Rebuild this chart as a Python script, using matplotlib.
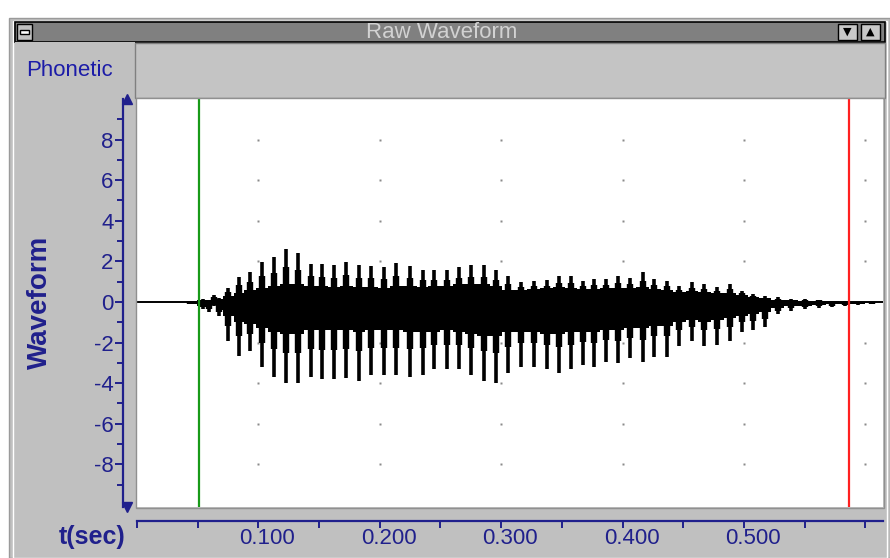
# raw_waveform.py ----
# Redraw the "Raw Waveform" window: a speech token between two cursors

# Setup ----
import numpy
import matplotlib
matplotlib.use('Agg')
import matplotlib.pyplot
from matplotlib import patches, transforms, ticker

matplotlib.pyplot.rcParams['font.family'] = ['Liberation Sans', 'DejaVu Sans']
matplotlib.pyplot.rcParams['axes.unicode_minus'] = False

# Data ----
# one entry per glottal pulse: time (s), spike top / bottom, shoulder top / bottom,
# dense body top / bottom
pulse_t = [0.0437, 0.0544, 0.0593, 0.0634, 0.0675, 0.0750, 0.0840, 0.0931, 0.1030, 0.1129,
           0.1227, 0.1326, 0.1433, 0.1524, 0.1623, 0.1722, 0.1829, 0.1928, 0.2035, 0.2133,
           0.2249, 0.2356, 0.2446, 0.2554, 0.2652, 0.2751, 0.2858, 0.2957, 0.3056, 0.3163,
           0.3270, 0.3377, 0.3476, 0.3575, 0.3674, 0.3764, 0.3863, 0.3962, 0.4061, 0.4168,
           0.4259, 0.4366, 0.4465, 0.4572, 0.4671, 0.4778, 0.4885, 0.4984, 0.5074, 0.5173,
           0.5280, 0.5387, 0.5502, 0.5618, 0.5725, 0.5832, 0.5939, 0.6054]
pulse_hi = [0.05, 0.15, 0.10, 0.35, 0.20, 0.70, 1.25, 1.50, 1.95, 2.20,
            2.60, 2.40, 1.87, 1.87, 1.80, 1.97, 1.80, 1.75, 1.70, 1.90,
            1.75, 1.60, 1.60, 1.60, 1.70, 1.80, 1.80, 1.60, 1.30, 1.00,
            1.05, 1.10, 1.30, 1.30, 1.05, 1.15, 1.15, 1.30, 1.20, 1.50,
            1.15, 1.05, 0.80, 0.97, 0.90, 0.72, 0.90, 0.56, 0.40, 0.30,
            0.23, 0.15, 0.15, 0.12, 0.05, 0.03, 0.00, 0.00]
pulse_lo = [-0.10, -0.35, -0.50, -0.20, -0.70, -1.90, -2.65, -2.40, -3.20, -3.70,
            -4.00, -4.00, -3.70, -3.80, -3.80, -3.75, -3.90, -3.60, -3.60, -3.60,
            -3.70, -3.60, -3.30, -3.30, -3.30, -3.60, -3.90, -4.00, -3.50, -3.20,
            -3.20, -3.30, -3.50, -3.30, -3.10, -3.20, -2.95, -3.00, -2.75, -2.95,
            -2.70, -2.70, -2.15, -1.90, -2.15, -2.10, -1.90, -1.50, -1.40, -1.25,
            -0.60, -0.43, -0.35, -0.30, -0.25, -0.20, -0.15, -0.12]
shoulder_hi = [0.03, 0.10, 0.08, 0.25, 0.15, 0.50, 0.85, 1.00, 1.30, 1.45,
               1.70, 1.60, 1.30, 1.25, 1.20, 1.35, 1.20, 1.20, 1.15, 1.30,
               1.20, 1.10, 1.10, 1.10, 1.20, 1.25, 1.25, 1.10, 0.90, 0.75,
               0.80, 0.80, 0.95, 0.95, 0.80, 0.85, 0.85, 0.95, 0.90, 1.05,
               0.85, 0.80, 0.60, 0.70, 0.65, 0.55, 0.65, 0.42, 0.30, 0.22,
               0.17, 0.11, 0.10, 0.08, 0.04, 0.02, 0.00, 0.00]
shoulder_lo = [-0.08, -0.25, -0.35, -0.15, -0.50, -1.20, -1.70, -1.60, -2.00, -2.30,
               -2.50, -2.50, -2.30, -2.35, -2.35, -2.30, -2.40, -2.25, -2.25, -2.25,
               -2.30, -2.25, -2.10, -2.10, -2.10, -2.25, -2.40, -2.50, -2.20, -2.00,
               -2.00, -2.10, -2.20, -2.10, -1.95, -2.00, -1.85, -1.90, -1.75, -1.85,
               -1.70, -1.70, -1.40, -1.25, -1.40, -1.35, -1.25, -1.00, -0.95, -0.85,
               -0.42, -0.30, -0.25, -0.22, -0.18, -0.15, -0.10, -0.09]
body_hi = [0.03, 0.10, 0.08, 0.20, 0.15, 0.30, 0.45, 0.60, 0.70, 0.80,
           0.90, 0.90, 0.80, 0.80, 0.75, 0.80, 0.75, 0.75, 0.70, 0.80,
           0.80, 0.75, 0.80, 0.80, 0.90, 0.90, 0.90, 0.80, 0.60, 0.60,
           0.65, 0.70, 0.75, 0.70, 0.65, 0.65, 0.70, 0.70, 0.70, 0.75,
           0.65, 0.60, 0.50, 0.55, 0.50, 0.45, 0.45, 0.35, 0.25, 0.20,
           0.12, 0.08, 0.06, 0.05, 0.03, 0.02, 0.00, 0.00]
body_lo = [-0.08, -0.20, -0.30, -0.15, -0.40, -0.70, -1.00, -1.10, -1.30, -1.50,
           -1.60, -1.60, -1.40, -1.40, -1.40, -1.40, -1.50, -1.40, -1.40, -1.40,
           -1.50, -1.50, -1.50, -1.40, -1.50, -1.60, -1.70, -1.70, -1.50, -1.50,
           -1.50, -1.60, -1.60, -1.50, -1.50, -1.50, -1.40, -1.40, -1.30, -1.30,
           -1.20, -1.20, -1.00, -0.90, -1.00, -0.90, -0.80, -0.70, -0.60, -0.50,
           -0.30, -0.20, -0.18, -0.15, -0.12, -0.10, -0.08, -0.06]

cursor_start = 0.051   # green cursor (s)
cursor_end = 0.5865    # red cursor (s)

x_ticks = [0.0, 0.05, 0.1, 0.15, 0.2, 0.25, 0.3, 0.35, 0.4, 0.45, 0.5, 0.55, 0.6]
x_tick_labels = ['', '', '0.100', '', '0.200', '', '0.300', '', '0.400', '', '0.500', '', '']
y_ticks = [-8, -6, -4, -2, 0, 2, 4, 6, 8]
y_minor = [-9, -7, -5, -3, -1, 1, 3, 5, 7, 9]
grid_x = [0.1, 0.2, 0.3, 0.4, 0.5, 0.6]
grid_y = [-8, -6, -4, -2, 2, 4, 6, 8]

# Window chrome ----
W, H = 890, 558
NAVY = '#20208c'
fig = matplotlib.pyplot.figure(figsize=(W / 100, H / 100), dpi=100)
fig.patch.set_facecolor('white')


def box(x, y, w, h, fc, ec='none', lw=1.0, z=0):
    # rectangle in screen pixels, y measured from the top
    r = patches.Rectangle((x / W, 1 - (y + h) / H), w / W, h / H, transform=fig.transFigure,
                          facecolor=fc, edgecolor=ec, linewidth=lw, zorder=z)
    fig.add_artist(r)
    return r


box(9, 18, 881, 540, '#c0c0c0', '#9a9a9a', 1.0)          # outer frame
box(13, 21, 874, 537, '#c0c0c0', '#ffffff', 1.0)
box(15, 22, 870, 20, '#808080', 'black', 1.2)            # title bar
box(17, 24, 15, 16, '#c0c0c0', 'black', 1.0)             # system icon
box(20, 30, 9, 4, 'white', 'black', 1.0)
box(838, 24, 19, 16, '#c8c8c8', 'black', 1.0)            # scroll buttons
box(861, 24, 19, 16, '#c8c8c8', 'black', 1.0)
fig.text(847.5 / W, 1 - 32 / H, '\u25bc', color='black', fontsize=8, ha='center', va='center',
         family='DejaVu Sans')
fig.text(870.5 / W, 1 - 32 / H, '\u25b2', color='black', fontsize=8, ha='center', va='center',
         family='DejaVu Sans')
fig.text(442 / W, 1 - 32 / H, 'Raw Waveform', color='#d2d2d2', fontsize=16, ha='center', va='center')

box(15, 42, 120, 56, '#c0c0c0')                          # phonetic row
box(135, 43, 750, 55, '#c4c4c4', '#808080', 1.0)
fig.text(26 / W, 1 - 70 / H, 'Phonetic', color='#1c1ca8', fontsize=16, ha='left', va='center')

# Waveform axes ----
ax = fig.add_axes([137 / W, 1 - 507 / H, (883 - 137) / W, (507 - 99) / H])
ax.set_facecolor('white')
ax.set_xlim(0, 0.6145)
ax.set_ylim(-10.1, 10)

ax.plot(*numpy.meshgrid(grid_x, grid_y), 's', ms=1.6, mec='none', color='#8a8a8a', zorder=1)
ax.axhline(0, color='black', lw=1.4, zorder=2)
ax.fill_between(pulse_t, body_lo, body_hi, step='mid', color='black', lw=0, zorder=3)
ax.vlines(pulse_t, shoulder_lo, shoulder_hi, color='black', lw=4.6, zorder=3)
ax.vlines(pulse_t, pulse_lo, pulse_hi, color='black', lw=2.6, zorder=3)
ax.axvline(cursor_start, color='#189a18', lw=1.6, zorder=4)
ax.axvline(cursor_end, color='#ff2020', lw=1.6, zorder=4)

# Axis styling ----
for side in ['top', 'right']:
    ax.spines[side].set_visible(False)
ax.spines['left'].set_position(('outward', 10))
ax.spines['bottom'].set_position(('outward', 10))
for side in ['left', 'bottom']:
    ax.spines[side].set_color(NAVY)
    ax.spines[side].set_linewidth(1.6)

ax.yaxis.set_major_locator(ticker.FixedLocator(y_ticks))
ax.yaxis.set_minor_locator(ticker.FixedLocator(y_minor))
ax.xaxis.set_major_locator(ticker.FixedLocator(x_ticks))
ax.xaxis.set_major_formatter(ticker.FixedFormatter(x_tick_labels))
ax.tick_params(axis='both', which='both', direction='out', color=NAVY, width=1.4,
               labelcolor=NAVY, labelsize=16)
ax.tick_params(axis='y', which='major', length=6, pad=1)
ax.tick_params(axis='y', which='minor', length=4)
ax.tick_params(axis='x', which='major', length=5, pad=0)

# labels sit a little right of their ticks in the original
shift = transforms.ScaledTranslation(9 / 100, 0, fig.dpi_scale_trans)
for label in ax.get_xticklabels():
    label.set_transform(label.get_transform() + shift)

# arrow heads on the y axis
spine_tr = transforms.offset_copy(ax.transAxes, fig=fig, x=-10, y=0, units='dots')
ax.plot([0], [1], marker='^', ms=7, color=NAVY, transform=spine_tr, clip_on=False)
ax.plot([0], [0], marker='v', ms=7, color=NAVY, transform=spine_tr, clip_on=False)

box(136, 98, 748, 410, 'none', '#909090', 1.0, z=5)      # plot frame

fig.text(40 / W, 1 - 302 / H, 'Waveform', color=NAVY, fontsize=20, fontweight='bold',
         rotation=90, ha='center', va='center')
fig.text(92 / W, 1 - 537 / H, 't(sec)', color=NAVY, fontsize=18, fontweight='bold',
         ha='center', va='center')

# Save ----
matplotlib.pyplot.savefig('out.png', dpi=100)
